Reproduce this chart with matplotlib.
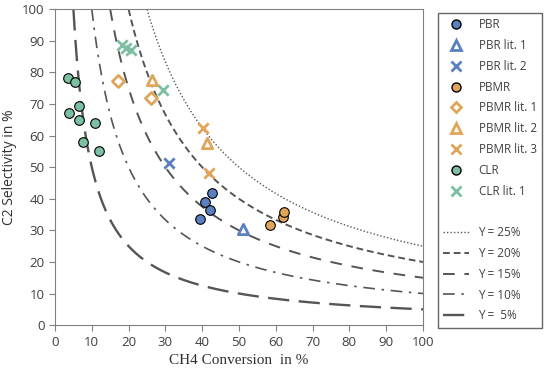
import numpy as np
import matplotlib.pyplot as plt
from matplotlib.lines import Line2D

# data
pbr_x = [42.6, 40.7, 42.0, 39.4]
pbr_y = [41.9, 39.0, 36.5, 33.6]
pbr_lit1_x = [51.2]
pbr_lit1_y = [30.3]
pbr_lit2_x = [31.1]
pbr_lit2_y = [51.2]
pbmr_x = [58.4, 62.1, 62.3]
pbmr_y = [31.6, 34.3, 35.9]
pbmr_lit1_x = [17.0, 26.1]
pbmr_lit1_y = [77.4, 72.0]
pbmr_lit2_x = [26.3, 41.2]
pbmr_lit2_y = [77.7, 57.8]
pbmr_lit3_x = [40.3, 41.9]
pbmr_lit3_y = [62.3, 48.3]
clr_x = [3.6, 5.4, 3.8, 6.6, 6.6, 7.5, 10.9, 11.9]
clr_y = [78.2, 77.0, 67.1, 69.4, 65.0, 58.1, 63.9, 55.2]
clr_lit1_x = [18.1, 19.4, 20.6, 29.3]
clr_lit1_y = [88.7, 87.9, 87.2, 74.3]

yields = [25, 20, 15, 10, 5]
yield_labels = ['Y = 25%', 'Y = 20%', 'Y = 15%', 'Y = 10%', 'Y =  5%']
yield_styles = [(0, (1, 1.5)), (0, (3.5, 2)), (0, (6, 5)), (0, (7, 4, 1.5, 4)), (0, (9, 4))]
yield_widths = [1.0, 1.4, 1.4, 1.2, 1.7]

blue = '#5a80c0'
orange = '#e0a558'
green = '#7cbfa2'
lc = '#555555'

plt.rcParams['font.family'] = ['Open Sans', 'DejaVu Sans']

fig = plt.figure(figsize=(5.5, 3.72), dpi=100)
ax = fig.add_axes([0.1, 0.126, 0.669, 0.849])

for Y, ls, lw in zip(yields, yield_styles, yield_widths):
    x = np.linspace(Y, 100, 400)
    ax.plot(x, Y * 100.0 / x, color=lc, linestyle=ls, linewidth=lw)

ms = 6.5
sc = 48   # circle size
sx = 55   # cross / triangle size
ax.scatter(clr_x, clr_y, s=sc, color=green, edgecolor='black', linewidth=0.8, zorder=3)
ax.scatter(clr_lit1_x, clr_lit1_y, s=sx, marker='x', color=green, linewidth=2, zorder=3)
ax.scatter(pbmr_lit1_x, pbmr_lit1_y, s=38, marker='D', facecolor='white', edgecolor=orange, linewidth=2, zorder=3)
ax.scatter(pbmr_lit2_x, pbmr_lit2_y, s=sx, marker='^', facecolor='white', edgecolor=orange, linewidth=2, zorder=3)
ax.scatter(pbmr_lit3_x, pbmr_lit3_y, s=sx, marker='x', color=orange, linewidth=2, zorder=3)
ax.scatter(pbr_lit2_x, pbr_lit2_y, s=sx, marker='x', color=blue, linewidth=2, zorder=3)
ax.scatter(pbr_x, pbr_y, s=sc, color=blue, edgecolor='black', linewidth=0.8, zorder=3)
ax.scatter(pbr_lit1_x, pbr_lit1_y, s=sx, marker='^', facecolor='white', edgecolor=blue, linewidth=2, zorder=3)
ax.scatter(pbmr_x, pbmr_y, s=sc, color=orange, edgecolor='black', linewidth=0.8, zorder=3)

ax.set_xlim(0, 100)
ax.set_ylim(0, 100)
ax.set_xticks(np.arange(0, 101, 10))
ax.set_yticks(np.arange(0, 101, 10))
ax.tick_params(direction='out', length=4, color='#808080', labelcolor='#404040', labelsize=9.5)
for s in ax.spines.values():
    s.set_color('#808080')
ax.set_xlabel('CH4 Conversion  in %', family='Liberation Serif', fontsize=11, color='#303030')
ax.set_ylabel('C2 Selectivity in %', fontsize=10, color='#303030')

handles = [
    Line2D([], [], ls='none', marker='o', ms=ms, mfc=blue, mec='black'),
    Line2D([], [], ls='none', marker='^', ms=ms, mfc='white', mec=blue, mew=2),
    Line2D([], [], ls='none', marker='x', ms=ms, color=blue, mew=2),
    Line2D([], [], ls='none', marker='o', ms=ms, mfc=orange, mec='black'),
    Line2D([], [], ls='none', marker='D', ms=5.5, mfc='white', mec=orange, mew=2),
    Line2D([], [], ls='none', marker='^', ms=ms, mfc='white', mec=orange, mew=2),
    Line2D([], [], ls='none', marker='x', ms=ms, color=orange, mew=2),
    Line2D([], [], ls='none', marker='o', ms=ms, mfc=green, mec='black'),
    Line2D([], [], ls='none', marker='x', ms=ms, color=green, mew=2),
    Line2D([], [], ls='none'),
]
labels = ['PBR', 'PBR lit. 1', 'PBR lit. 2', 'PBMR', 'PBMR lit. 1', 'PBMR lit. 2',
          'PBMR lit. 3', 'CLR', 'CLR lit. 1', '']
for ls, lw in zip(yield_styles, yield_widths):
    handles.append(Line2D([], [], color=lc, linestyle=ls, linewidth=lw))
labels += yield_labels

leg = fig.legend(handles, labels, loc='upper left', bbox_to_anchor=(0.796, 0.965),
                 borderaxespad=0, frameon=True, fancybox=False, edgecolor='#404040',
                 fontsize=8.5, handlelength=2.2, labelspacing=0.66, borderpad=0.45)
leg.get_frame().set_linewidth(1.0)
for t in leg.get_texts():
    t.set_color('#404040')

fig.savefig('out.png', dpi=100)
